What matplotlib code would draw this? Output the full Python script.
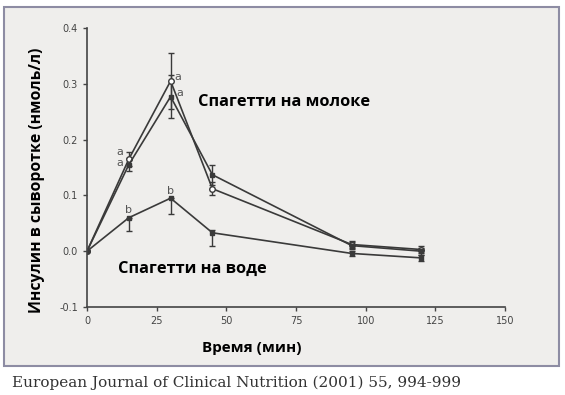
import matplotlib
matplotlib.use("Agg")
import matplotlib.pyplot as plt
from matplotlib.patches import Rectangle

# time points (min)
time = [0, 15, 30, 45, 95, 120]

# insulin, spaghetti with milk (open circles)
milk_a = [0.0, 0.165, 0.305, 0.112, 0.012, 0.003]
milk_a_err = [0.0, 0.012, 0.05, 0.012, 0.006, 0.006]
# insulin, spaghetti with milk (filled)
milk_b = [0.0, 0.155, 0.277, 0.137, 0.010, 0.000]
milk_b_err = [0.0, 0.012, 0.038, 0.018, 0.006, 0.006]
# insulin, spaghetti with water (bars drawn mostly below the points)
water = [0.0, 0.060, 0.095, 0.033, -0.004, -0.012]
water_err_lo = [0.0, 0.023, 0.029, 0.024, 0.004, 0.006]
water_err_hi = [0.0, 0.0, 0.0, 0.005, 0.004, 0.006]

xticks = [0, 25, 50, 75, 100, 125, 150]
yticks = [-0.1, 0.0, 0.1, 0.2, 0.3, 0.4]

line_col = "#3a3a3a"

fig = plt.figure(figsize=(5.65, 3.95), dpi=100)
fig.patch.set_facecolor("white")

# grey framed panel behind the plot
fig.patches.append(Rectangle((4 / 565, 29 / 395), 555 / 565, 359 / 395,
                             transform=fig.transFigure, facecolor="#efeeec",
                             edgecolor="#8d8ca3", linewidth=1.5, zorder=-10))

ax = fig.add_axes([87 / 565, 88 / 395, 418 / 565, 279 / 395])
ax.set_facecolor("none")

ax.errorbar(time, milk_a, yerr=milk_a_err, color=line_col, lw=1.2, marker="o",
            ms=4, mfc="white", mec=line_col, capsize=2, elinewidth=1)
ax.errorbar(time, milk_b, yerr=milk_b_err, color=line_col, lw=1.2, marker="s",
            ms=3, capsize=2, elinewidth=1)
ax.errorbar(time, water, yerr=[water_err_lo, water_err_hi], color=line_col,
            lw=1.2, marker="s", ms=3, capsize=2, elinewidth=1)

# significance letters
small = dict(fontsize=8, color="#555555")
ax.text(31.5, 0.307, "a", **small)
ax.text(32, 0.278, "a", **small)
ax.text(13, 0.172, "a", ha="right", **small)
ax.text(13, 0.152, "a", ha="right", **small)
ax.text(15, 0.068, "b", ha="center", **small)
ax.text(30, 0.103, "b", ha="center", **small)

bold = dict(fontsize=11.8, fontweight="bold", family="Open Sans", color="black")
ax.text(40, 0.268, "Спагетти на молоке", va="center", **bold)
ax.text(11, -0.032, "Спагетти на воде", va="center", **bold)

ax.set_xlim(0, 150)
ax.set_ylim(-0.1, 0.4)
ax.set_xticks(xticks)
ax.set_yticks(yticks)
ax.set_xticklabels([str(t) for t in xticks])
ax.set_yticklabels([f"{v:.1f}" for v in yticks])
ax.tick_params(labelsize=7, colors="#444444", length=3, width=1)

for s in ["top", "right"]:
    ax.spines[s].set_visible(False)
for s in ["left", "bottom"]:
    ax.spines[s].set_color("#444444")
    ax.spines[s].set_linewidth(1.2)

fig.text(252 / 565, 1 - 348 / 395, "Время (мин)", ha="center", va="center",
         fontsize=11, fontweight="bold", family="Open Sans")
fig.text(37 / 565, 1 - 180 / 395, "Инсулин в сыворотке (нмоль/л)", rotation=90,
         ha="center", va="center", fontsize=11.3, fontweight="bold",
         family="Open Sans")

fig.text(12 / 565, 12 / 395, "European Journal of Clinical Nutrition (2001) 55, 994-999",
         fontsize=11, family="DejaVu Serif", color="#333333", va="center")

fig.savefig("out.png", dpi=100)
